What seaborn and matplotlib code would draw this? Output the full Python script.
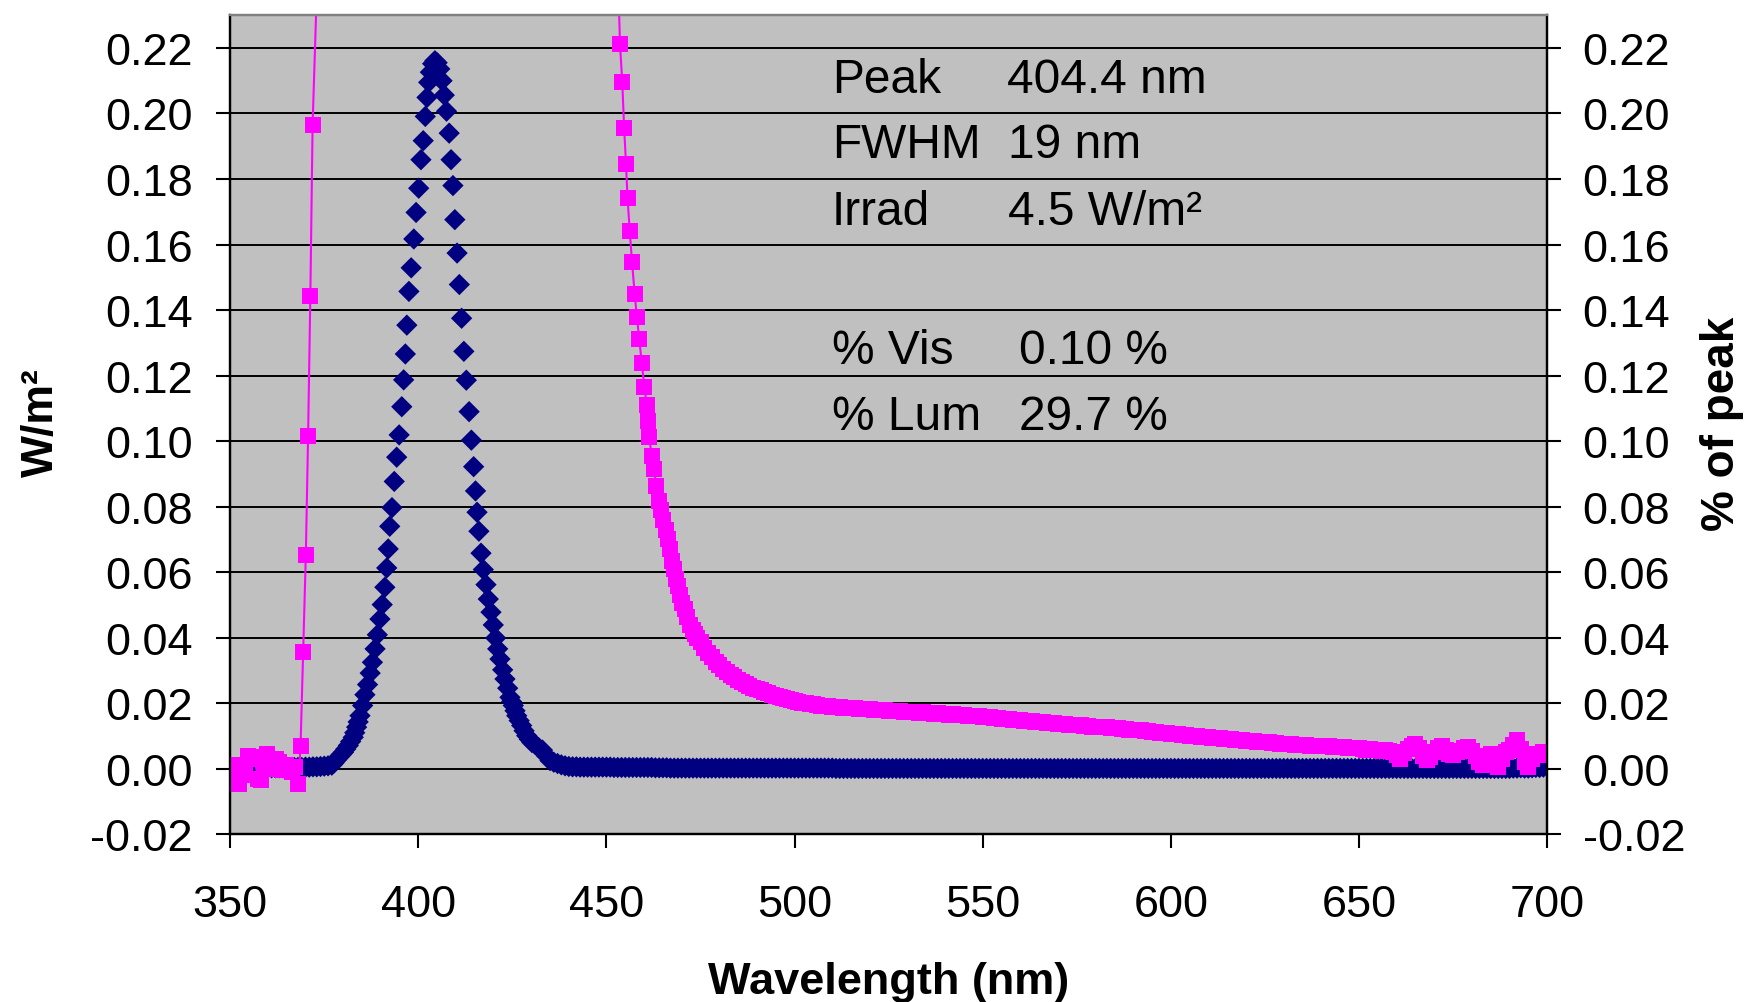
import matplotlib
matplotlib.use("Agg")
import matplotlib.pyplot as plt
import seaborn as sns

# ---------------- data ----------------
# Spectral irradiance, W/m^2 (navy diamonds, left axis), in segments
blue_wl_base = [350, 351, 352, 353, 354, 355, 356, 357, 358, 359,
                360, 361, 362, 363, 364, 365, 366, 367, 368, 369,
                370, 371, 372, 373, 374, 375, 376]
blue_irr_base = [0.0003, 0.0003, 0.0002, 0.0003, 0.0003, 0.0002, 0.0003, 0.0003, 0.0003, 0.0003,
                 0.0003, 0.0003, 0.0003, 0.0003, 0.0003, 0.0003, 0.0004, 0.0004, 0.0004, 0.0004,
                 0.0005, 0.0005, 0.0006, 0.0006, 0.0007, 0.0008, 0.0009]

blue_wl_rise = [377.0, 377.6, 378.3, 378.9, 379.5, 380.1, 380.7, 381.4, 382.0, 382.7,
                383.1, 383.6, 384.0, 384.5, 385.2, 385.8, 386.5, 387.2, 387.8, 388.5,
                389.1, 389.8, 390.4, 391.1, 391.6, 392.0, 392.4, 393.0, 393.6, 394.25,
                394.9, 395.6, 396.1, 396.55, 396.95, 397.5, 398.1, 398.8, 399.4, 400.1,
                400.7, 401.3, 401.85, 402.3, 402.75, 403.2, 403.8, 404.4]
blue_irr_rise = [0.0011, 0.0018, 0.0028, 0.0036, 0.0043, 0.0050, 0.0060, 0.0071, 0.0083, 0.0096,
                 0.0110, 0.0127, 0.0143, 0.0162, 0.0193, 0.0226, 0.0257, 0.0292, 0.0325, 0.0366,
                 0.0409, 0.0457, 0.0501, 0.0554, 0.0613, 0.0671, 0.0740, 0.0797, 0.0877, 0.0951,
                 0.1019, 0.1105, 0.1187, 0.1266, 0.1354, 0.1457, 0.1529, 0.1617, 0.1698, 0.1772,
                 0.1859, 0.1917, 0.1991, 0.2049, 0.2095, 0.2126, 0.2152, 0.2161]

blue_wl_fall = [405.0, 405.7, 406.3, 406.9, 407.5, 408.2, 408.7, 409.2, 409.7, 410.3,
                410.9, 411.5, 412.1, 412.75, 413.5, 414.1, 414.7, 415.2, 415.6, 416.1,
                416.66, 417.27, 417.98, 418.59, 419.31, 419.92, 420.56, 421.09, 421.7, 422.42,
                423.03, 423.75, 424.36, 424.8, 425.24, 425.7, 426.15, 426.8, 427.47, 428.1,
                428.8, 429.5, 430.2]
blue_irr_fall = [0.2155, 0.2136, 0.2100, 0.2056, 0.2007, 0.1940, 0.1859, 0.1780, 0.1676, 0.1574,
                 0.1478, 0.1375, 0.1274, 0.1186, 0.1090, 0.1003, 0.0922, 0.0848, 0.0783, 0.0725,
                 0.0658, 0.0608, 0.0562, 0.0518, 0.0478, 0.0439, 0.0399, 0.0366, 0.0335, 0.0302,
                 0.0274, 0.0246, 0.0218, 0.0205, 0.0193, 0.0177, 0.0162, 0.0147, 0.0132, 0.0116,
                 0.0101, 0.0090, 0.0080]

blue_wl_tail = [431, 432, 433, 434, 435, 436, 437, 438, 439, 440,
                441, 442, 443, 444, 445, 446, 447, 448, 449, 450,
                451, 452, 453, 454, 455, 456, 457, 458, 459, 460,
                461, 462, 463, 464, 465, 466, 467, 468, 469, 470,
                471, 472, 473, 474, 475, 476, 477, 478, 479, 480,
                481, 482, 483, 484, 485, 486, 487, 488, 489, 490,
                491, 492, 493, 494, 495, 496, 497, 498, 499, 500,
                501, 502, 503, 504, 505, 506, 507, 508, 509, 510,
                511, 512, 513, 514, 515, 516, 517, 518, 519, 520,
                521, 522, 523, 524, 525, 526, 527, 528, 529, 530,
                531, 532, 533, 534, 535, 536, 537, 538, 539, 540,
                541, 542, 543, 544, 545, 546, 547, 548, 549, 550,
                551, 552, 553, 554, 555, 556, 557, 558, 559, 560,
                561, 562, 563, 564, 565, 566, 567, 568, 569, 570,
                571, 572, 573, 574, 575, 576, 577, 578, 579, 580,
                581, 582, 583, 584, 585, 586, 587, 588, 589, 590,
                591, 592, 593, 594, 595, 596, 597, 598, 599, 600,
                601, 602, 603, 604, 605, 606, 607, 608, 609, 610,
                611, 612, 613, 614, 615, 616, 617, 618, 619, 620,
                621, 622, 623, 624, 625, 626, 627, 628, 629, 630,
                631, 632, 633, 634, 635, 636, 637, 638, 639, 640,
                641, 642, 643, 644, 645, 646, 647, 648, 649, 650,
                651, 652, 653, 654, 655, 656, 657, 658, 659, 660,
                661, 662, 663, 664, 665, 666, 667, 668, 669, 670,
                671, 672, 673, 674, 675, 676, 677, 678, 679, 680,
                681, 682, 683, 684, 685, 686, 687, 688, 689, 690,
                691, 692, 693, 694, 695, 696, 697, 698, 699, 700]
blue_irr_tail = [0.0075, 0.0064, 0.0057, 0.0040, 0.0025, 0.0020, 0.0016, 0.0012, 0.0009, 0.0007,
                 0.0006, 0.0006, 0.0005, 0.0005, 0.0005, 0.0005, 0.0005, 0.0005, 0.0005, 0.0005,
                 0.0005, 0.0004, 0.0004, 0.0004, 0.0004, 0.0004, 0.0004, 0.0004, 0.0004, 0.0004,
                 0.0004, 0.0004, 0.0003, 0.0003, 0.0003, 0.0003, 0.0002, 0.0002, 0.0002, 0.0002,
                 0.0002, 0.0002, 0.0002, 0.0002, 0.0002, 0.0002, 0.0002, 0.0002, 0.0002, 0.0002,
                 0.0002, 0.0002, 0.0002, 0.0002, 0.0002, 0.0002, 0.0002, 0.0002, 0.0002, 0.0002,
                 0.0002, 0.0002, 0.0002, 0.0002, 0.0002, 0.0002, 0.0002, 0.0002, 0.0002, 0.0002,
                 0.0002, 0.0002, 0.0002, 0.0002, 0.0002, 0.0002, 0.0002, 0.0002, 0.0002, 0.0002,
                 0.0001, 0.0001, 0.0001, 0.0001, 0.0001, 0.0001, 0.0001, 0.0001, 0.0001, 0.0001,
                 0.0001, 0.0001, 0.0001, 0.0001, 0.0001, 0.0001, 0.0001, 0.0001, 0.0001, 0.0001,
                 0.0001, 0.0001, 0.0001, 0.0001, 0.0001, 0.0001, 0.0001, 0.0001, 0.0001, 0.0001,
                 0.0001, 0.0001, 0.0001, 0.0001, 0.0001, 0.0001, 0.0001, 0.0001, 0.0001, 0.0001,
                 0.0001, 0.0001, 0.0001, 0.0001, 0.0001, 0.0001, 0.0001, 0.0001, 0.0001, 0.0001,
                 0.0001, 0.0001, 0.0001, 0.0001, 0.0001, 0.0001, 0.0001, 0.0001, 0.0001, 0.0001,
                 0.0001, 0.0001, 0.0001, 0.0001, 0.0001, 0.0001, 0.0001, 0.0001, 0.0001, 0.0001,
                 0.0001, 0.0001, 0.0001, 0.0001, 0.0001, 0.0001, 0.0001, 0.0001, 0.0001, 0.0001,
                 0.0001, 0.0001, 0.0001, 0.0001, 0.0001, 0.0001, 0.0001, 0.0001, 0.0001, 0.0001,
                 0.0001, 0.0001, 0.0001, 0.0001, 0.0001, 0.0001, 0.0001, 0.0001, 0.0001, 0.0001,
                 0.0001, 0.0001, 0.0001, 0.0001, 0.0001, 0.0001, 0.0001, 0.0001, 0.0001, 0.0001,
                 0.0001, 0.0001, 0.0001, 0.0001, 0.0001, 0.0001, 0.0001, 0.0001, 0.0001, 0.0001,
                 0.0001, 0.0001, 0.0001, 0.0001, 0.0001, 0.0001, 0.0001, 0.0001, 0.0001, 0.0001,
                 0.0001, 0.0001, 0.0001, 0.0001, 0.0001, 0.0001, 0.0001, 0.0001, 0.0001, 0.0001,
                 0.0001, 0.0001, 0.0001, 0.0001, 0.0001, 0.0001, 0.0001, 0.0001, 0.0001, 0.0001,
                 0.0001, 0.0001, 0.0001, 0.0001, 0.0001, 0.0001, 0.0001, 0.0001, 0.0001, 0.0001,
                 0.0001, 0.0001, 0.0001, 0.0001, 0.0001, 0.0001, 0.0001, 0.0001, 0.0001, 0.0001,
                 0.0001, 0.0001, 0.0001, 0.0001, 0.0001, 0.0001, 0.0001, 0.0001, 0.0001, 0.0001,
                 0.0002, 0.0002, 0.0003, 0.0002, 0.0002, 0.0003, 0.0004, 0.0004, 0.0005, 0.0008]

# % of peak (magenta squares joined by a line, right axis), in segments
mag_wl_left = [350.0, 350.6, 351.5, 352.4, 353.2, 354.0, 354.8, 355.6, 356.5, 357.3,
               358.1, 359.0, 359.8, 360.6, 361.5, 362.3, 363.1, 364.0, 364.8, 365.6,
               366.5, 367.3, 368.1, 368.7, 369.4, 370.1, 370.7, 371.3, 371.9, 373.5]
mag_pct_left = [0.0010, -0.0020, 0.0005, -0.0045, 0.0010, -0.0020, 0.0040, 0.0030, 0.0035, -0.0030,
                -0.0035, 0.0015, 0.0045, 0.0030, 0.0000, 0.0030, 0.0020, -0.0005, 0.0010, 0.0005,
                -0.0010, 0.0005, -0.0045, 0.0071, 0.0356, 0.0652, 0.1015, 0.1443, 0.1966, 0.2550]

mag_wl_fall = [453.0, 453.6, 454.2, 454.7, 455.2, 455.6, 456.2, 456.8, 457.5, 458.1,
               458.7, 459.4, 460.1, 460.7, 461.0, 461.4, 462.0, 462.6, 463.2, 464.0,
               464.6, 465.1, 465.7, 466.3, 466.9, 467.4, 467.9, 468.5, 469.0, 469.6,
               470.2, 470.8, 471.5, 472.2, 472.9, 473.5]
mag_pct_fall = [0.2450, 0.2212, 0.2095, 0.1955, 0.1846, 0.1742, 0.1640, 0.1546, 0.1449, 0.1378,
                0.1312, 0.1238, 0.1164, 0.1110, 0.1062, 0.1012, 0.0956, 0.0915, 0.0864, 0.0818,
                0.0790, 0.0760, 0.0730, 0.0700, 0.0671, 0.0635, 0.0610, 0.0580, 0.0559, 0.0530,
                0.0505, 0.0488, 0.0462, 0.0440, 0.0425, 0.0412]

mag_wl_tail = [474, 475, 476, 477, 478, 479,
               480, 481, 482, 483, 484, 485, 486, 487, 488, 489,
               490, 491, 492, 493, 494, 495, 496, 497, 498, 499,
               500, 501, 502, 503, 504, 505, 506, 507, 508, 509,
               510, 511, 512, 513, 514, 515, 516, 517, 518, 519,
               520, 521, 522, 523, 524, 525, 526, 527, 528, 529,
               530, 531, 532, 533, 534, 535, 536, 537, 538, 539,
               540, 541, 542, 543, 544, 545, 546, 547, 548, 549,
               550, 551, 552, 553, 554, 555, 556, 557, 558, 559,
               560, 561, 562, 563, 564, 565, 566, 567, 568, 569,
               570, 571, 572, 573, 574, 575, 576, 577, 578, 579,
               580, 581, 582, 583, 584, 585, 586, 587, 588, 589,
               590, 591, 592, 593, 594, 595, 596, 597, 598, 599,
               600, 601, 602, 603, 604, 605, 606, 607, 608, 609,
               610, 611, 612, 613, 614, 615, 616, 617, 618, 619,
               620, 621, 622, 623, 624, 625, 626, 627, 628, 629,
               630, 631, 632, 633, 634, 635, 636, 637, 638, 639,
               640, 641, 642, 643, 644, 645, 646, 647, 648, 649,
               650, 651, 652, 653, 654, 655, 656, 657, 658, 659,
               660, 661, 662, 663, 664, 665, 666, 667, 668, 669,
               670, 671, 672, 673, 674, 675, 676, 677, 678, 679,
               680, 681, 682, 683, 684, 685, 686, 687, 688, 689,
               690, 691, 692, 693, 694, 695, 696, 697, 698, 699,
               700]
mag_pct_tail = [0.0400, 0.0386, 0.0368, 0.0352, 0.0340, 0.0327,
                0.0316, 0.0306, 0.0296, 0.0287, 0.0279, 0.0272, 0.0265, 0.0259, 0.0253, 0.0248,
                0.0243, 0.0239, 0.0234, 0.0230, 0.0226, 0.0222, 0.0219, 0.0215, 0.0212, 0.0209,
                0.0206, 0.0204, 0.0201, 0.0202, 0.0198, 0.0197, 0.0196, 0.0193, 0.0192, 0.0191,
                0.0190, 0.0189, 0.0190, 0.0187, 0.0186, 0.0186, 0.0185, 0.0183, 0.0182, 0.0183,
                0.0181, 0.0180, 0.0179, 0.0180, 0.0178, 0.0177, 0.0176, 0.0177, 0.0175, 0.0174,
                0.0173, 0.0174, 0.0172, 0.0171, 0.0172, 0.0170, 0.0169, 0.0168, 0.0169, 0.0167,
                0.0166, 0.0165, 0.0166, 0.0164, 0.0163, 0.0163, 0.0162, 0.0161, 0.0160, 0.0160,
                0.0158, 0.0157, 0.0157, 0.0155, 0.0154, 0.0153, 0.0153, 0.0151, 0.0150, 0.0150,
                0.0148, 0.0147, 0.0147, 0.0145, 0.0144, 0.0143, 0.0143, 0.0141, 0.0140, 0.0139,
                0.0138, 0.0137, 0.0137, 0.0135, 0.0134, 0.0133, 0.0133, 0.0131, 0.0130, 0.0129,
                0.0128, 0.0127, 0.0127, 0.0126, 0.0124, 0.0123, 0.0123, 0.0121, 0.0120, 0.0119,
                0.0118, 0.0117, 0.0117, 0.0115, 0.0114, 0.0112, 0.0112, 0.0110, 0.0109, 0.0108,
                0.0107, 0.0106, 0.0106, 0.0104, 0.0102, 0.0101, 0.0101, 0.0099, 0.0098, 0.0097,
                0.0096, 0.0095, 0.0095, 0.0093, 0.0092, 0.0091, 0.0091, 0.0089, 0.0088, 0.0087,
                0.0086, 0.0085, 0.0085, 0.0083, 0.0082, 0.0081, 0.0081, 0.0079, 0.0078, 0.0077,
                0.0077, 0.0076, 0.0076, 0.0074, 0.0073, 0.0072, 0.0073, 0.0071, 0.0070, 0.0069,
                0.0069, 0.0068, 0.0068, 0.0066, 0.0066, 0.0065, 0.0065, 0.0064, 0.0063, 0.0062,
                0.0062, 0.0061, 0.0058, 0.0059, 0.0056, 0.0058, 0.0055, 0.0057, 0.0054, 0.0050,
                0.0042, 0.0030, 0.0048, 0.0060, 0.0068, 0.0075, 0.0062, 0.0040, 0.0028, 0.0035,
                0.0050, 0.0062, 0.0069, 0.0058, 0.0045, 0.0042, 0.0050, 0.0055, 0.0062, 0.0067,
                0.0055, 0.0038, 0.0022, 0.0010, 0.0025, 0.0045, 0.0020, 0.0005, 0.0030, 0.0050,
                0.0056, 0.0072, 0.0089, 0.0060, 0.0020, 0.0005, 0.0030, 0.0046, 0.0042, 0.0050,
                0.0045]

x_ticks = [350, 400, 450, 500, 550, 600, 650, 700]
y_ticks = [-0.02, 0.00, 0.02, 0.04, 0.06, 0.08, 0.10, 0.12, 0.14, 0.16, 0.18, 0.20, 0.22]
y_tick_labels = ["-0.02", "0.00", "0.02", "0.04", "0.06", "0.08", "0.10", "0.12",
                 "0.14", "0.16", "0.18", "0.20", "0.22"]

info_labels = ["Peak", "FWHM", "Irrad", "% Vis", "% Lum"]
info_values = ["404.4 nm", "19 nm", "4.5 W/m\u00b2", "0.10 %", "29.7 %"]

blue_wl = blue_wl_base + blue_wl_rise + blue_wl_fall + blue_wl_tail
blue_irr = blue_irr_base + blue_irr_rise + blue_irr_fall + blue_irr_tail
mag_wl = mag_wl_left + mag_wl_fall + mag_wl_tail
mag_pct = mag_pct_left + mag_pct_fall + mag_pct_tail

# ---------------- styling ----------------
sns.set_theme(style="white")
plt.rcParams["font.family"] = ["Liberation Sans", "DejaVu Sans"]
plt.rcParams["axes.unicode_minus"] = False
plt.rcParams["text.color"] = "black"
plt.rcParams["axes.labelcolor"] = "black"

NAVY = "#000080"
MAGENTA = "#FF00FF"
W, H = 1744, 1003

fig = plt.figure(figsize=(W / 100, H / 100), dpi=100)
fig.patch.set_facecolor("white")
ax = fig.add_axes([230.2 / W, 1 - 835.3 / H, 1316.9 / W, 819.1 / H])
ax.set_facecolor("#C0C0C0")

sns.scatterplot(x=blue_wl, y=blue_irr, ax=ax, marker="D", s=118, color=NAVY,
                edgecolor="none", linewidth=0, legend=False, zorder=3)

ax2 = ax.twinx()
sns.lineplot(x=mag_wl, y=mag_pct, ax=ax2, color=MAGENTA, marker="s", markersize=12,
             markeredgewidth=0, linewidth=1.5, sort=False, estimator=None, legend=False)

for a in (ax, ax2):
    a.set_xlim(350, 700)
    a.set_ylim(-0.02, 0.23)
    a.set_yticks(y_ticks)
    a.set_yticklabels(y_tick_labels)
    a.set_xlabel("")
    a.set_ylabel("")
    for side in ("left", "right", "bottom"):
        a.spines[side].set_color("black")
        a.spines[side].set_linewidth(1.6)
        a.spines[side].set_visible(True)
    a.spines["top"].set_color("#808080")
    a.spines["top"].set_linewidth(1.6)
    a.spines["top"].set_visible(True)

ax.set_xticks(x_ticks)
ax.set_xticklabels([str(v) for v in x_ticks])
ax.set_axisbelow(True)
ax.yaxis.grid(True, color="black", linewidth=1.4)
ax.xaxis.grid(False)

ax.tick_params(axis="x", direction="out", length=10, width=1.5, pad=26, labelsize=32.5,
               bottom=True, colors="black")
ax.tick_params(axis="y", direction="out", length=10, width=1.5, pad=17, labelsize=32.5,
               left=True, right=False, colors="black")
ax2.tick_params(axis="y", direction="out", length=10, width=1.5, pad=15.5, labelsize=32.5,
                right=True, left=False, colors="black")

# info text block (positions in axes fractions)
label_x = (831.7 - 230.2) / 1316.9
value_x = [(1006.7 - 230.2) / 1316.9, (1008 - 230.2) / 1316.9, (1008 - 230.2) / 1316.9,
           (1019 - 230.2) / 1316.9, (1019 - 230.2) / 1316.9]
rows_base = [92.7, 158.3, 225.0, 363.7, 430.4]
for lab, val, vx, by in zip(info_labels, info_values, value_x, rows_base):
    ry = (835.3 - by) / 819.1
    ax.text(label_x, ry, lab, transform=ax.transAxes, fontsize=34.5, va="baseline",
            ha="left", color="black", zorder=5)
    ax.text(vx, ry, val, transform=ax.transAxes, fontsize=34.5, va="baseline",
            ha="left", color="black", zorder=5)

# axis titles
fig.text(888.6 / W, 1 - 994 / H, "Wavelength (nm)", fontsize=32.5, fontweight="bold",
         ha="center", va="baseline", color="black")
fig.text(41 / W, 1 - 423 / H, "W/m\u00b2", fontsize=32, fontweight="bold",
         rotation=90, ha="center", va="center", color="black")
fig.text(1722 / W, 1 - 424 / H, "% of peak", fontsize=33, fontweight="bold",
         rotation=90, ha="center", va="center", color="black")

fig.savefig("out.png", dpi=100, facecolor="white")
